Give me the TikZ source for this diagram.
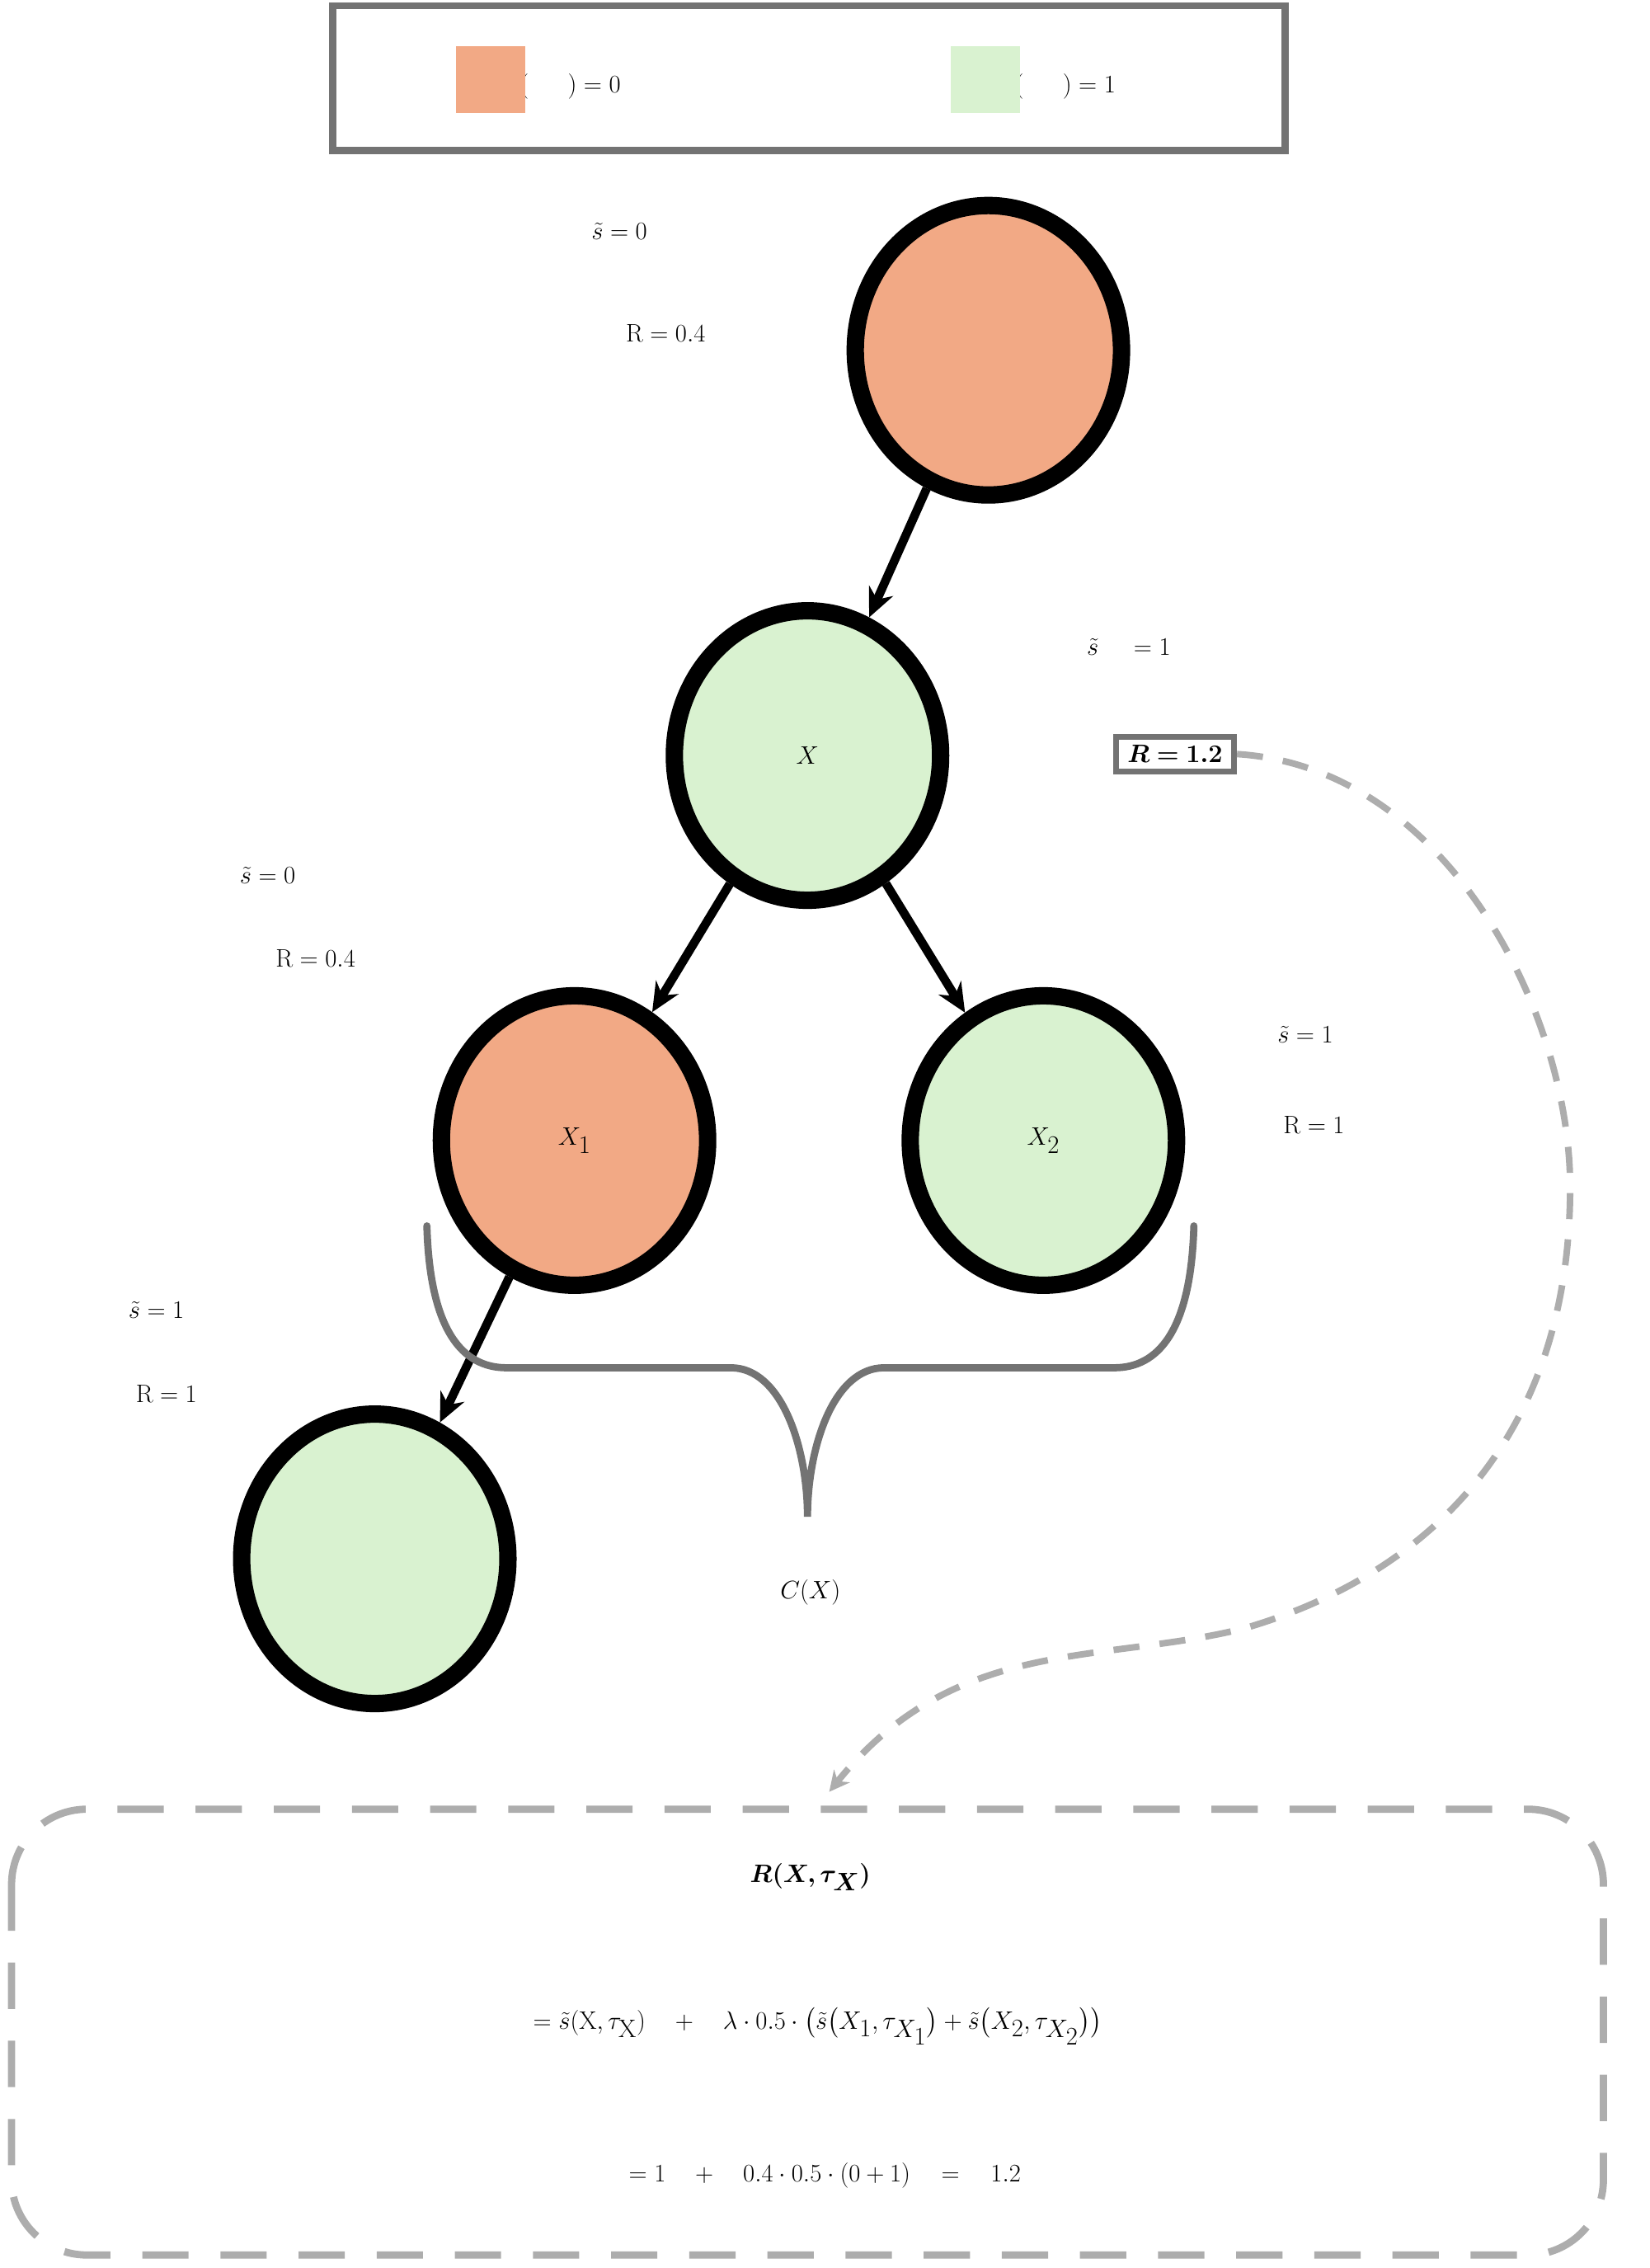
\documentclass[tikz,border=0pt]{standalone}
\usepackage{amsmath,bm}
\usetikzlibrary{arrows.meta,shapes.geometric}
\definecolor{org}{HTML}{F2A985}
\definecolor{grn}{HTML}{D9F2D0}
\begin{document}
\begin{tikzpicture}[x=0.05cm,y=-0.05cm,
  nd/.style={ellipse,draw=black,line width=12*0.05cm,minimum width=184*0.05cm,minimum height=200*0.05cm,inner sep=0},
  big/.style={font=\fontsize{125}{140}\selectfont},
  lab/.style={font=\fontsize{78}{94}\selectfont,inner sep=0},
  arr/.style={line width=6*0.05cm,-{Stealth[length=1cm,width=0.9cm]}},
  gr/.style={draw=gray!110,line width=5*0.05cm}]
\useasboundingbox (0,0) rectangle (1140,1567);
\draw[gr] (230,4) rectangle (888,104);
\node[lab] (l1) at (390,60) {$\tilde s(\hspace{1.35cm})=0$};
\node[lab] (l2) at (732,60) {$\tilde s(\hspace{1.35cm})=1$};
\fill[org] (315,32) rectangle (363,78);
\fill[grn] (657,32) rectangle (705,78);
\node[nd,fill=org] (t) at (683,242) {};
\node[nd,fill=grn,big] (x) at (558,522) {$X$};
\node[nd,fill=org,big] (x1) at (397,788) {$X_1$};
\node[nd,fill=grn,big] (x2) at (721,788) {$X_2$};
\node[nd,fill=grn] (b) at (259,1077) {};
\draw[arr] (t) -- (x);
\draw[arr] (x) -- (x1);
\draw[arr] (x) -- (x2);
\draw[arr] (x1) -- (b);
\node[lab] (a1) at (428,160) {$\tilde s=0$};
\node[lab] (a2) at (460,230) {$\mathrm{R}=0.4$};
\node[lab] (b1) at (185,605) {$\tilde s=0$};
\node[lab] (b2) at (218,662) {$\mathrm{R}=0.4$};
\node[lab] (c1) at (902,715) {$\tilde s=1$};
\node[lab] (c2) at (908,777) {$\mathrm{R}=1$};
\node[lab] (d1) at (108,905) {$\tilde s=1$};
\node[lab] (d2) at (115,963) {$\mathrm{R}=1$};
\node[lab] (e1) at (780,447) {$\tilde s\ \,=1$};
\node[lab,draw=gray!110,line width=4*0.05cm,inner xsep=0.4cm,inner ysep=0.3cm] (e2) at (812,521) {$\bm{R=1.2}$};
\draw[gr,line cap=round] (295,847) .. controls (297,920) and (320,945) .. (350,945) -- (505,945) .. controls (540,945) and (558,1000) .. (558,1048)
  .. controls (558,1000) and (576,945) .. (611,945) -- (770,945) .. controls (800,945) and (823,920) .. (825,847);
\node[lab] (cx) at (560,1100) {$C(X)$};
\coordinate (q) at (573,1238);
\draw[draw=black!32,line width=4.5*0.05cm,dash pattern=on 0.9cm off 0.7cm,-{Stealth[length=0.7cm,width=0.7cm]}]
  (e2.east) .. controls (1000,530) and (1085,700) .. (1085,820) .. controls (1085,1000) and (980,1090) .. (860,1125)
  .. controls (760,1150) and (660,1130) .. (q);
\draw[draw=black!32,line width=5*0.05cm,dash pattern=on 1.6cm off 1.1cm,rounded corners=2.6cm] (8,1250) rectangle (1108,1558);
\node[lab] (f1) at (560,1297) {$\bm{R(X,\tau_X)}$};
\node[lab] (f2) at (565,1400) {$=\tilde s(\mathrm{X},\tau_{\mathrm{X}})\ +\ \lambda\cdot0.5\cdot\bigl(\tilde s\bigl(X_1,\tau_{X_1}\bigr)+\tilde s\bigl(X_2,\tau_{X_2}\bigr)\bigr)$};
\node[lab] (f3) at (570,1503) {$=1\ +\ 0.4\cdot0.5\cdot(0+1)\ =\ 1.2$};
\end{tikzpicture}
\end{document}
